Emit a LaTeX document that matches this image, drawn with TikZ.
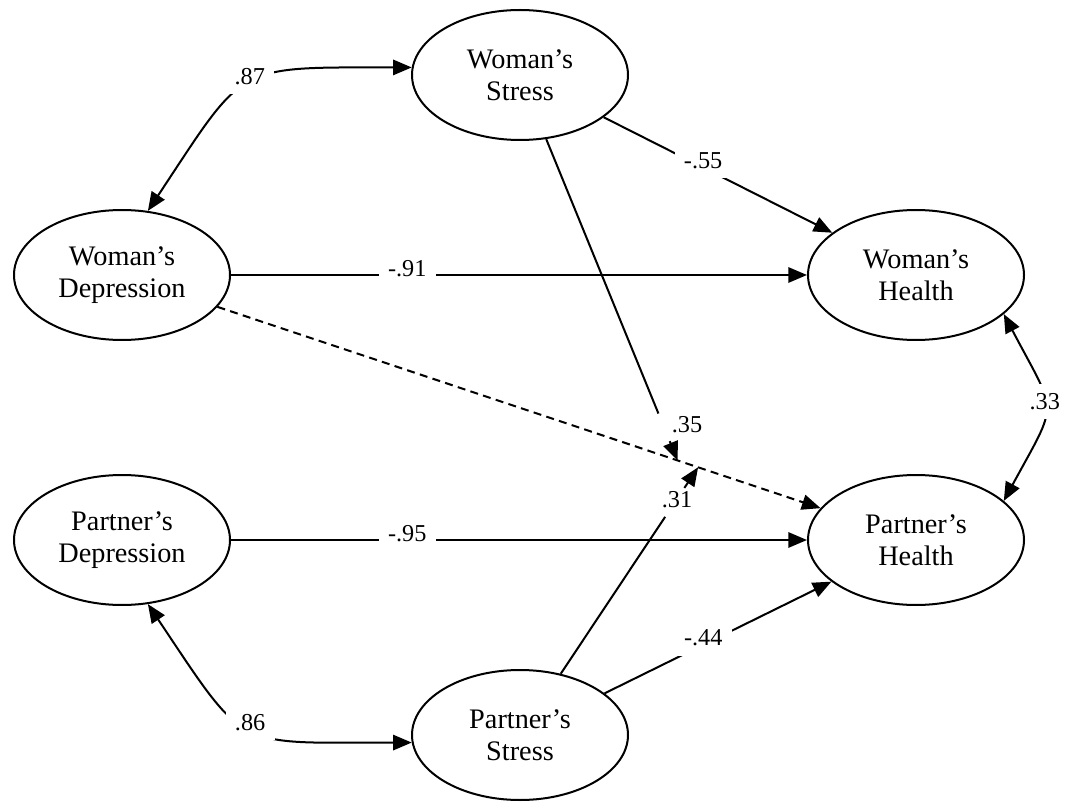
\documentclass[tikz,border=0pt]{standalone}
\usepackage{fontspec}
\setmainfont{Liberation Serif}
\usetikzlibrary{arrows.meta,shapes.geometric}
\begin{document}
\begin{tikzpicture}[x=0.75pt,y=-0.75pt,
  latent/.style={draw, ellipse, line width=1.5pt, minimum width=162pt, minimum height=97.5pt, inner sep=0pt, align=center, font=\fontsize{21.2}{24}\selectfont},
  conn/.style={line width=1.5pt},
  >={Triangle[length=14pt,width=11.5pt]},
  lab/.style={fill=white, inner sep=7pt, yshift=5pt, font=\fontsize{18.2}{21}\selectfont},
  lbl/.style={inner sep=1pt, font=\fontsize{18.2}{21}\selectfont}]
\useasboundingbox (0,0) rectangle (1071,802);
\node[latent] (ws) at (520,75) {Woman’s\\Stress};
\node[latent] (wd) at (122,275) {Woman’s\\Depression};
\node[latent] (wh) at (916,275) {Woman’s\\Health};
\node[latent] (pd) at (122,540) {Partner’s\\Depression};
\node[latent] (ph) at (916,540) {Partner’s\\Health};
\node[latent] (ps) at (520,735) {Partner’s\\Stress};
% direct paths
\draw[conn,->] (wd) -- node[lab,pos=0.306]{-.91} (wh);
\draw[conn,->] (pd) -- node[lab,pos=0.306]{-.95} (ph);
\draw[conn,->] (ws) -- node[lab,pos=0.435]{-.55} (wh);
\draw[conn,->] (ps) -- node[lab,pos=0.435]{-.44} (ph);
% dashed cross path
\draw[conn,->,dash pattern=on 6pt off 4pt] (wd) -- coordinate[pos=0.763] (m1) coordinate[pos=0.797] (m2) (ph);
% moderating arrows
\path (ws) -- (m1) coordinate[pos=0.854] (g1) coordinate[pos=0.94] (h1);
\draw[conn] (ws) -- (g1);
\draw[conn,->] (h1) -- (m1);
\node[lbl] (l35) at (687,425) {.35};
\path (ps) -- (m2) coordinate[pos=0.76] (g2) coordinate[pos=0.9] (h2);
\draw[conn] (ps) -- (g2);
\draw[conn,->] (h2) -- (m2);
\node[lbl] (l31) at (677,500) {.31};
% covariances
\draw[conn,<->] (wd.68) .. controls (246.5,62) and (233,67.5) .. node[lab,pos=0.5]{.87} (ws.176);
\draw[conn,<->] (pd.-68) .. controls (247.5,753) and (233,742.5) .. node[lab,pos=0.5]{.86} (ps.184);
\draw[conn,<->] (wh.-24) .. controls (1058,417) and (1059,399) .. node[lab,pos=0.5]{.33} (ph.24);
\end{tikzpicture}
\end{document}
